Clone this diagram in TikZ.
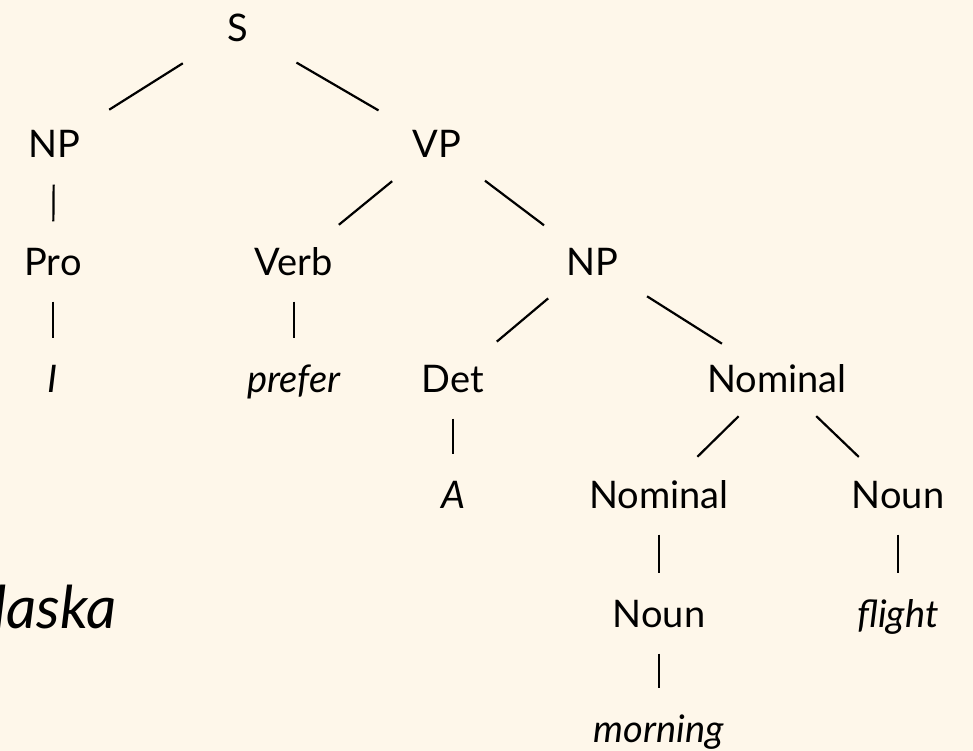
\documentclass[tikz,border=0pt]{standalone}
\usepackage{fontspec}
\setmainfont{Lato}
\usetikzlibrary{shapes.geometric}
\definecolor{paper}{RGB}{254,247,234}
\begin{document}
\begin{tikzpicture}[x=1pt,y=-1pt,
  cat/.style={ellipse, inner sep=0pt, minimum width=220pt, minimum height=80pt,
    text height=27pt, text depth=0pt, font=\fontsize{38}{44}\selectfont},
  word/.style={cat, font=\fontsize{38}{44}\selectfont\itshape},
  branch/.style={line width=2.2pt, black}]
  % page
  \fill[paper] (0,0) rectangle (973,751);
  \useasboundingbox (0,0) rectangle (973,751);

  % categories and words, placed by cap-height centre
  \node[cat]  (s)     at (238,28.5)  {S};
  \node[cat]  (np)    at (54,144.5)  {NP};
  \node[cat]  (vp)    at (437,144.5) {VP};
  \node[cat]  (pro)   at (53,261.5)  {Pro};
  \node[cat]  (verb)  at (294,261.5) {Verb};
  \node[cat]  (np2)   at (592,261.5) {NP};
  \node[word] (i)     at (53,378.5)  {I};
  \node[word] (prefer) at (294,378.5) {prefer};
  \node[cat]  (det)   at (453,378.5) {Det};
  \node[cat]  (nom)   at (777,378.5) {Nominal};
  \node[word] (a)     at (453,494.5) {A};
  \node[cat]  (nom2)  at (659,494.5) {Nominal};
  \node[cat]  (noun)  at (898,494.5) {Noun};
  \node[cat]  (noun2) at (659,613.5) {Noun};
  \node[word] (flight) at (898,613.5) {flight};
  \node[word] (morning) at (659,728.5) {morning};

  % large italic word running off the left edge
  \node[anchor=base east, inner sep=0pt, font=\fontsize{59}{66}\selectfont\itshape]
    (alaska) at (117,628) {Alaska};

  % branches
  \draw[branch] (s) -- (np);
  \draw[branch] (s) -- (vp);
  \draw[branch] (np) -- (pro);
  \draw[branch] (pro) -- (i);
  \draw[branch] (vp) -- (verb);
  \draw[branch] (vp) -- (np2);
  \draw[branch] (verb) -- (prefer);
  \draw[branch] (np2) -- (det);
  \draw[branch] (np2) -- (nom);
  \draw[branch] (det) -- (a);
  \draw[branch] (nom) -- (nom2);
  \draw[branch] (nom) -- (noun);
  \draw[branch] (nom2) -- (noun2);
  \draw[branch] (noun) -- (flight);
  \draw[branch] (noun2) -- (morning);
\end{tikzpicture}
\end{document}
